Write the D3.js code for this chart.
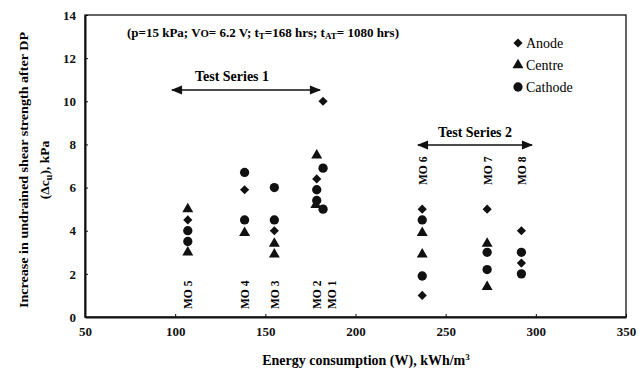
<!DOCTYPE html>
<html>
<head>
<meta charset="utf-8">
<script src="https://cdn.jsdelivr.net/npm/d3@7"></script>
<style>
  body { margin: 0; background: #fff; }
  text { font-family: "Liberation Serif", "DejaVu Serif", serif; }
</style>
</head>
<body>
<div id="chart"></div>
<script>
// test labels and where they sit (energy, kWh/m3)
var mixLabels = ["MO 5", "MO 4", "MO 3", "MO 2", "MO 1", "MO 6", "MO 7", "MO 8"];
var mixLabelX = [107, 138.5, 155, 178.5, 186.5, 237, 273, 292];

// Anode
var anodeX = [107, 138.5, 155, 178.5, 182, 237, 237, 273, 292, 292];
var anodeY = [4.5, 5.9, 4.0, 6.4, 10.0, 5.0, 1.0, 5.0, 4.0, 2.5];
// Centre
var centreX = [107, 107, 138.5, 155, 155, 178.5, 178, 237, 237, 273, 273];
var centreY = [5.0, 3.0, 3.9, 3.4, 2.9, 7.5, 5.2, 3.9, 2.9, 3.4, 1.4];
// Cathode
var cathodeX = [107, 107, 138.5, 138.5, 155, 155, 178.5, 178.5, 182, 182, 237, 237, 273, 273, 292, 292];
var cathodeY = [4.0, 3.5, 6.7, 4.5, 6.0, 4.5, 5.9, 5.4, 6.9, 5.0, 4.5, 1.9, 3.0, 2.2, 3.0, 2.0];

var xTicks = [50, 100, 150, 200, 250, 300, 350];
var yTicks = [0, 2, 4, 6, 8, 10, 12, 14];

var W = 640, H = 373;
var m = {left: 85, right: 14, top: 15, bottom: 56};

var svg = d3.select("#chart").append("svg")
    .attr("width", W)
    .attr("height", H);

var x = d3.scaleLinear().domain([50, 350]).range([m.left, W - m.right]);
var y = d3.scaleLinear().domain([0, 14]).range([H - m.bottom, m.top]);

// frame
svg.append("rect")
    .attr("x", x(50)).attr("y", y(14))
    .attr("width", x(350) - x(50)).attr("height", y(0) - y(14))
    .attr("fill", "none").attr("stroke", "#111").attr("stroke-width", 1.3);

// axes, ticks inside
var xAxis = svg.append("g")
    .attr("transform", "translate(0," + y(0) + ")")
    .call(d3.axisBottom(x).tickValues(xTicks).tickSizeInner(-3).tickSizeOuter(0).tickPadding(10));
var yAxis = svg.append("g")
    .attr("transform", "translate(" + x(50) + ",0)")
    .call(d3.axisLeft(y).tickValues(yTicks).tickSizeInner(-3).tickSizeOuter(0).tickPadding(9));

[xAxis, yAxis].forEach(function(a) {
    a.select(".domain").attr("stroke", "#111").attr("stroke-width", 2);
    a.selectAll("line").attr("stroke", "#111");
    a.selectAll("text")
        .style("font-family", "'Liberation Serif', serif")
        .style("font-weight", "bold")
        .style("font-size", "13px")
        .attr("fill", "#111");
});

// axis titles
svg.append("text")
    .attr("x", 366).attr("y", 365)
    .attr("text-anchor", "middle")
    .style("font-weight", "bold").style("font-size", "14px")
    .html("Energy consumption (W), kWh/m<tspan dy='-5' font-size='9px'>3</tspan>");

var yl = svg.append("g").attr("transform", "translate(28,170) rotate(-90)");
yl.append("text")
    .attr("text-anchor", "middle")
    .attr("textLength", 276).attr("lengthAdjust", "spacingAndGlyphs")
    .style("font-weight", "bold").style("font-size", "13.5px")
    .text("Increase in undrained shear strength after DP");
yl.append("text")
    .attr("y", 21)
    .attr("text-anchor", "middle")
    .style("font-weight", "bold").style("font-size", "13.5px")
    .html("(\u0394c<tspan dy='3' font-size='10px'>u</tspan><tspan dy='-3'>), kPa</tspan>");

// test conditions
svg.append("text")
    .attr("x", 127).attr("y", 37)
    .attr("textLength", 272).attr("lengthAdjust", "spacingAndGlyphs")
    .style("font-weight", "bold").style("font-size", "11.5px")
    .html("(p=15 kPa; V<tspan font-size='9.5px'>O</tspan>= 6.2 V; t<tspan dy='2' font-size='8px'>T</tspan><tspan dy='-2'>=168 hrs; t</tspan><tspan dy='2' font-size='8px'>AT</tspan><tspan dy='-2'>= 1080 hrs)</tspan>");

// arrows for the test series
var defs = svg.append("defs");
defs.append("marker")
    .attr("id", "arr").attr("viewBox", "0 0 10 10")
    .attr("refX", 9).attr("refY", 5)
    .attr("markerWidth", 9).attr("markerHeight", 7)
    .attr("orient", "auto-start-reverse")
    .append("path").attr("d", "M0,1 L10,5 L0,9 z").attr("fill", "#111");

var series = [
    {name: "Test Series 1", x0: 172, x1: 320, ay: 90, tx: 232, ty: 81},
    {name: "Test Series 2", x0: 418, x1: 532, ay: 145, tx: 475, ty: 137}
];
series.forEach(function(s) {
    svg.append("line")
        .attr("x1", s.x0).attr("x2", s.x1).attr("y1", s.ay).attr("y2", s.ay)
        .attr("stroke", "#111").attr("stroke-width", 1.6)
        .attr("marker-start", "url(#arr)").attr("marker-end", "url(#arr)");
    svg.append("text")
        .attr("x", s.tx).attr("y", s.ty)
        .attr("text-anchor", "middle")
        .style("font-weight", "bold").style("font-size", "14px")
        .text(s.name);
});

// MO labels: series 1 at the bottom, series 2 up top
mixLabels.forEach(function(lab, i) {
    var top = i >= 5;
    var by = top ? 185 : 309;
    svg.append("text")
        .attr("transform", "translate(" + (x(mixLabelX[i]) + 4.5) + "," + by + ") rotate(-90)")
        .style("font-weight", "bold").style("font-size", "11.5px")
        .text(lab);
});

// markers
var diamond = d3.symbol().type(d3.symbolSquare).size(42);
var triangle = d3.symbol().type(d3.symbolTriangle).size(52);
var circle = d3.symbol().type(d3.symbolCircle).size(68);

function drawSeries(xs, ys, sym, rot) {
    svg.append("g").selectAll("path")
        .data(xs.map(function(v, i) { return {x: v, y: ys[i]}; }))
        .enter()
        .append("path")
        .attr("d", sym)
        .attr("transform", function(d) { return "translate(" + x(d.x) + "," + y(d.y) + ") rotate(" + rot + ")"; })
        .attr("fill", "#111");
}
drawSeries(anodeX, anodeY, diamond, 45);
drawSeries(centreX, centreY, triangle, 0);
drawSeries(cathodeX, cathodeY, circle, 0);

// legend
var legend = [
    {name: "Anode", sym: diamond, rot: 45},
    {name: "Centre", sym: triangle, rot: 0},
    {name: "Cathode", sym: circle, rot: 0}
];
legend.forEach(function(l, i) {
    var ly = 43 + i * 22;
    svg.append("path").attr("d", l.sym)
        .attr("transform", "translate(518," + ly + ") rotate(" + l.rot + ")")
        .attr("fill", "#111");
    svg.append("text")
        .attr("x", 526).attr("y", ly + 4.5)
        .style("font-size", "14px")
        .text(l.name);
});
</script>
</body>
</html>
